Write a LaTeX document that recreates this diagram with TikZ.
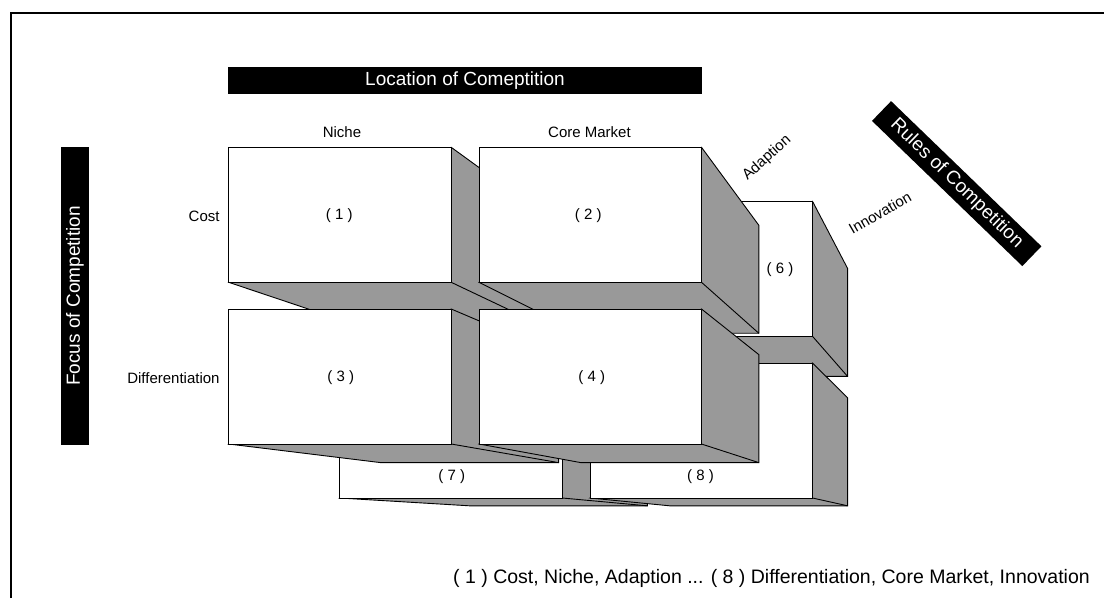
\documentclass[tikz,border=0pt]{standalone}
\usepackage{fontspec}
\setmainfont{Liberation Sans}
\usetikzlibrary{calc}
\definecolor{boxgray}{RGB}{153,153,153}

\begin{document}
\begin{tikzpicture}[x=1pt, y=-1pt, line width=0.9pt,
    side/.style={draw, fill=boxgray},
    face/.style={draw, fill=white},
    bar/.style={fill=black, text=white, font=\fontsize{19}{22}\selectfont, minimum height=27.5pt, inner sep=0pt},
    lbl/.style={font=\fontsize{15}{18}\selectfont, inner sep=0pt}]
    \useasboundingbox (0,0) rectangle (1104,598);
    % frame
    \draw[line width=1.6pt] (11,598) -- (11,13) -- (1104,13);

    % vanishing point of the boxes
    \coordinate (V) at (988,537);

    % back row (Innovation) first, then front row (Adaption)
    \foreach \bx/\by in {339.7/201.3, 590/201.3, 339.7/363, 590/363,
                         228.7/147.3, 479/147.3, 228.7/309, 479/309} {
        \coordinate (tl) at (\bx,\by);
        \coordinate (br) at (\bx+222.5,\by+135);
        \coordinate (tr) at (br |- tl);
        \coordinate (bl) at (tl |- br);
        \draw[side] (tr) -- ($(tr)!0.2!(V)$) -- ($(br)!0.2!(V)$) -- ($(bl)!0.2!(V)$) -- (bl) -- cycle;
        \draw (br) -- ($(br)!0.2!(V)$);
        \draw[face] (tl) rectangle (br);
    }

    % axis bars
    \node[bar, minimum width=474pt] (location) at (465,80.5) {Location of Comeptition};
    \node[bar, minimum width=298pt, rotate=90] (focus) at (75,296) {Focus of Competition};
    \node[bar, minimum width=209pt, rotate=-44] (rules) at (956.7,183.6) {Rules of Competition};

    % row and column labels
    \node[lbl] (niche) at (342,132) {Niche};
    \node[lbl] (core) at (589.5,132) {Core Market};
    \node[lbl, anchor=east] (cost) at (220,216) {Cost};
    \node[lbl, anchor=east] (diff) at (220,378) {Differentiation};
    \node[lbl, rotate=42] (adapt) at (767,158) {Adaption};
    \node[lbl, rotate=30] (innov) at (880,213) {Innovation};

    % box numbers
    \node[lbl] (n1) at (339.3,216) {( 1 )};
    \node[lbl] (n2) at (588.3,216) {( 2 )};
    \node[lbl] (n3) at (340.7,377.7) {( 3 )};
    \node[lbl] (n4) at (591.7,377.7) {( 4 )};
    \node[lbl] (n6) at (780,269.3) {( 6 )};
    \node[lbl] (n7) at (451.7,476.7) {( 7 )};
    \node[lbl] (n8) at (700.5,476.7) {( 8 )};

    \node[lbl, font=\fontsize{19.5}{23}\selectfont] (legend) at (771.5,578.5)
        {( 1 ) Cost, Niche, Adaption ... ( 8 ) Differentiation, Core Market, Innovation};
\end{tikzpicture}
\end{document}
